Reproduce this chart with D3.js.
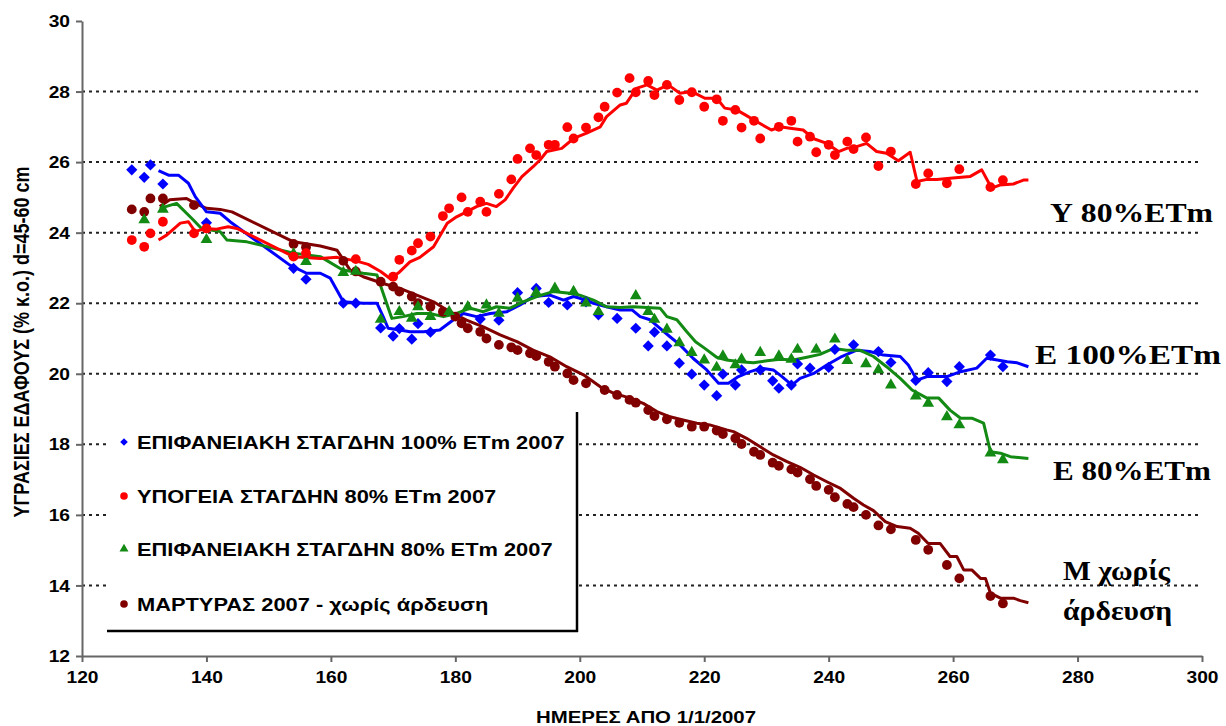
<!DOCTYPE html>
<html><head><meta charset="utf-8">
<script src="https://cdn.jsdelivr.net/npm/d3@7/dist/d3.min.js"></script>
<style>body{margin:0;background:#fff}svg{display:block}</style>
</head><body><svg id="c" width="1226" height="726"></svg>
<script>
// ---------- data ----------
const xTicks = [120,140,160,180,200,220,240,260,280,300];
const yTicks = [12,14,16,18,20,22,24,26,28,30];
const gridValues = [14,16,18,20,22,24,26,28];

const seriesNames = ["ΕΠΙΦΑΝΕΙΑΚΗ ΣΤΑΓΔΗΝ 100% ΕΤm 2007","ΥΠΟΓΕΙΑ ΣΤΑΓΔΗΝ 80% ΕΤm 2007","ΕΠΙΦΑΝΕΙΑΚΗ ΣΤΑΓΔΗΝ 80% ΕΤm 2007","ΜΑΡΤΥΡΑΣ 2007 - χωρίς άρδευση"];
const seriesColors = ["#0000ff","#ff0000","#138a13","#800000"];
const seriesShapes = ["diamond","circle","triangle","circle"];

// measured points
const blueX = [128,130,131,133,140,154,156,162,164,168,170,171,173,174,176,184,187,190,193,195,198,201,203,206,209,211,212,214,216,218,220,222,223,225,226,229,231,232,234,235,237,240,241,244,248,250,254,256,259,261,266,268];
const blueY = [25.78,25.57,25.92,25.38,24.28,22.99,22.68,22.0,22.0,21.3,21.07,21.28,20.98,21.42,21.18,21.55,21.52,22.3,22.42,22.02,21.95,22.04,21.67,21.57,21.29,20.79,21.18,20.79,20.3,19.99,19.68,19.38,19.99,19.68,20.11,20.11,19.8,19.59,19.68,20.28,20.16,20.18,20.69,20.82,20.63,20.32,19.81,20.03,19.78,20.2,20.53,20.2];

const redX = [128,130,131,133,138,140,154,156,164,170,171,173,174,176,178,179,181,182,184,185,187,189,190,192,193,195,196,198,199,201,203,204,206,208,209,211,212,214,216,218,220,222,223,225,226,228,229,232,234,235,237,238,240,241,243,244,246,248,250,254,256,259,261,266,268];
const redY = [23.79,23.6,23.98,24.31,23.98,24.12,23.32,23.42,23.25,22.75,23.23,23.49,23.7,23.89,24.47,24.69,25.0,24.59,24.88,24.59,25.1,25.51,26.09,26.39,26.2,26.49,26.49,26.99,26.67,26.98,27.27,27.57,27.97,28.38,27.98,28.3,27.9,28.19,27.76,27.98,27.57,27.78,27.17,27.48,26.98,27.17,26.67,27.0,27.17,26.58,26.72,26.28,26.49,26.2,26.58,26.37,26.7,25.89,26.3,25.38,25.68,25.4,25.8,25.29,25.49];

const greenX = [130,133,140,154,156,162,164,168,171,173,174,176,179,182,185,187,190,193,196,199,201,203,209,211,212,214,216,218,220,222,223,225,226,229,232,234,235,238,241,243,246,248,250,254,256,259,261,266,268];
const greenY = [24.36,24.66,23.8,23.4,23.18,22.87,22.9,21.54,21.76,21.57,21.9,21.62,21.76,21.9,21.95,21.71,22.14,22.3,22.42,22.33,22.0,21.76,22.21,21.76,21.54,21.26,20.88,20.6,20.39,20.18,20.5,20.25,20.41,20.6,20.5,20.41,20.69,20.69,20.98,20.37,20.28,20.11,19.68,19.37,19.16,18.78,18.55,17.75,17.56];

const brownX = [128,130,131,133,138,154,156,162,164,168,170,171,173,174,176,178,180,181,182,184,185,187,189,190,192,193,195,196,198,199,201,204,206,208,209,211,212,214,216,218,220,222,223,225,226,228,229,231,232,234,235,237,238,240,241,243,244,246,248,250,254,256,259,261,266,268];
const brownY = [24.66,24.59,24.97,24.97,24.78,23.68,23.59,23.2,22.9,22.61,22.47,22.33,22.19,22.0,21.9,21.76,21.62,21.43,21.29,21.19,21.0,20.82,20.75,20.67,20.58,20.5,20.34,20.2,20.01,19.82,19.73,19.54,19.4,19.26,19.18,18.97,18.8,18.71,18.61,18.5,18.5,18.39,18.29,18.17,18.01,17.79,17.7,17.48,17.39,17.29,17.2,17.01,16.82,16.71,16.5,16.31,16.22,16.0,15.7,15.59,15.29,15.01,14.58,14.2,13.7,13.49];

// line series
const blueLineX = [132.3,133.9,135.5,137.1,138.2,140,142.2,143.8,153.4,156.1,158.3,159.9,162,165.2,167.4,168.4,169.2,171.1,172.7,174.9,177.5,179.7,181.3,183.4,185.6,188.3,190.4,192.5,195.2,197.4,199,200,202.2,204.3,206.5,208.4,209.7,211.3,212.9,214.5,216.1,218.2,220.4,222.3,223.9,225.5,227.4,229.2,231.1,232.5,234.1,235.4,237.6,239.7,241.9,244.5,246.6,248.8,251.5,252.8,254.2,255.8,259,261.2,263.8,265.4,267.1,268.7,270.3,272.1];
const blueLineY = [25.76,25.63,25.63,25.4,25.02,24.59,24.55,24.31,23.08,22.85,22.85,22.71,22.04,22.0,22.0,21.62,21.29,21.24,21.19,21.19,21.24,21.53,21.71,21.62,21.71,21.76,21.95,22.19,22.23,22.09,22.19,22.14,22.0,21.9,21.81,21.81,21.62,21.53,21.29,21.05,20.82,20.44,20.11,19.73,19.73,19.92,20.06,20.16,20.11,19.92,19.68,19.87,20.01,20.25,20.47,20.67,20.63,20.53,20.49,20.25,19.82,19.92,19.92,20.06,20.16,20.44,20.39,20.34,20.31,20.2];

const redLineX = [132.3,133.6,135.8,137.1,138.2,139.8,141.6,143.5,144.9,154,158.3,161,164,166,168,169.5,171,172.7,174.3,176.5,178.7,180.2,181.8,183.4,185,186.6,188,189.3,190.7,192.5,193.6,194.7,197.1,199,201.1,203.3,204.3,206.5,207.5,209.1,210.8,212.4,214.2,216.1,218,220.1,222,223.3,225.2,226.6,228.4,230.8,232.2,233.8,235.9,237.5,239.7,241.6,242.9,244.5,246.1,247.7,249.3,251.2,253.1,254.2,255.8,257.4,259.5,262.7,264.6,266.2,267.5,269.7,271.3,272.1];
const redLineY = [23.79,23.93,24.27,24.31,24.03,24.12,24.1,24.17,24.12,23.32,23.27,23.3,23.2,23.1,22.9,22.7,22.88,23.17,23.3,23.6,24.27,24.45,24.59,24.74,24.83,24.74,24.93,25.26,25.59,25.87,26.06,26.3,26.39,26.67,26.82,27.0,27.29,27.62,27.67,28.09,28.19,28.04,28.19,27.95,28.0,27.81,27.81,27.53,27.48,27.34,27.15,26.91,27.0,26.96,26.91,26.67,26.53,26.3,26.39,26.44,26.53,26.3,26.25,26.04,26.28,25.45,25.51,25.51,25.54,25.59,25.78,25.26,25.35,25.38,25.49,25.49];

const greenLineX = [132.5,135.2,137.9,139.2,142.2,143.3,146.5,154,158.3,161.9,165.2,167.4,168.4,169.8,171.6,173.8,175.9,178.1,180.2,182.4,184.5,186.6,188.8,190.9,193.1,195.7,198.4,200,202.2,204.3,206.5,208.6,210.8,212.9,214,215.6,217.2,218.6,220.1,222,223.6,225.8,227.9,230.1,232.2,234.3,236.5,238.6,240.8,242.9,245,247.2,249.3,251.5,253.4,255.8,257.7,259.5,261.2,263,264.9,266,267.6,269.2,272.1];
const greenLineY = [24.69,24.83,24.36,24.12,24.03,23.79,23.74,23.42,23.32,22.94,22.85,22.8,22.28,21.57,21.62,21.71,21.71,21.62,21.71,21.86,21.76,21.9,21.86,22.04,22.19,22.33,22.28,22.23,22.09,21.9,21.88,21.9,21.88,21.86,21.62,21.53,21.19,20.91,20.72,20.47,20.39,20.34,20.31,20.37,20.41,20.39,20.47,20.55,20.72,20.67,20.67,20.49,20.2,19.87,19.54,19.31,19.31,18.97,18.74,18.74,18.6,17.79,17.75,17.65,17.6];

const brownLineX = [132.5,134.1,136.8,138.2,140,142.2,144.1,154,158.3,161,163.1,165.2,168.4,171.1,173.8,176.5,179.1,181.8,184.5,187.2,189.9,192.5,195.2,197.9,200.6,203.3,205.4,208.1,210.2,212.4,214.5,216.6,218.8,220.9,223.6,224.7,226.8,229,231.1,233.3,235.4,237.6,239.7,241.9,244,245.6,247.2,249.1,251,253.1,254.4,256,257.9,259.5,260.6,261.7,263,264.4,265.2,266,267.6,269.7,270.8,272.1];
const brownLineY = [24.74,24.93,24.97,24.83,24.69,24.66,24.59,23.74,23.62,23.5,22.94,22.75,22.56,22.42,22.23,22.04,21.76,21.52,21.33,21.1,20.91,20.67,20.48,20.2,19.97,19.63,19.45,19.31,19.16,18.93,18.78,18.69,18.6,18.55,18.41,18.36,18.17,17.93,17.7,17.51,17.35,17.13,16.94,16.75,16.47,16.28,16.12,15.81,15.67,15.62,15.48,15.19,15.19,14.82,14.82,14.44,14.44,14.2,14.2,13.78,13.64,13.64,13.57,13.51];

const rightLabels = ["Υ 80%ETm","Ε 100%ΕΤm","Ε 80%ΕΤm","Μ χωρίς","άρδευση"];
const xTitle = "ΗΜΕΡΕΣ ΑΠΟ 1/1/2007";
const yTitle = "ΥΓΡΑΣΙΕΣ ΕΔΑΦΟΥΣ (% κ.ο.) d=45-60 cm";

// ---------- drawing ----------
const svg = d3.select("#c");
const x = d3.scaleLinear().domain([120,300]).range([82,1202]);
const y = d3.scaleLinear().domain([12,30]).range([656,21]);
const SANS = "'Liberation Sans', Arial, sans-serif";
const SERIF = "'Liberation Serif', 'Times New Roman', serif";
const SX = 1.2; // horizontal stretch of the original picture

// gridlines
svg.append("g").selectAll("line").data(gridValues).join("line")
  .attr("x1", x(120)).attr("x2", x(300))
  .attr("y1", d => y(d)).attr("y2", d => y(d))
  .attr("stroke", "#222").attr("stroke-width", 2).attr("stroke-dasharray", "3,4");

// axes
const gx = svg.append("g").attr("transform", `translate(0,${y(12)})`)
  .call(d3.axisBottom(x).tickValues(xTicks).tickSize(6).tickSizeOuter(0).tickPadding(10));
const gy = svg.append("g").attr("transform", `translate(${x(120)},0)`)
  .call(d3.axisLeft(y).tickValues(yTicks).tickSize(6).tickSizeOuter(0).tickPadding(9));
[gx, gy].forEach(g => {
  g.select(".domain").attr("stroke", "#666").attr("stroke-width", 2);
  g.selectAll(".tick line").attr("stroke", "#666").attr("stroke-width", 2);
  g.selectAll(".tick text").attr("fill", "#000").attr("font-family", SANS)
    .attr("font-weight", "bold").attr("font-size", 16);
});
gx.selectAll(".tick text").attr("transform", `scale(${SX},1)`);
gy.selectAll(".tick text").attr("dy", "0.35em").attr("x", -12/SX).attr("transform", `scale(${SX},1)`);

// series
const seriesPts = [[blueX,blueY],[redX,redY],[greenX,greenY],[brownX,brownY]];
const seriesLines = [[blueLineX,blueLineY],[redLineX,redLineY],[greenLineX,greenLineY],[brownLineX,brownLineY]];
const line = d3.line().x(d => x(d[0])).y(d => y(d[1]));

function symbolFor(shape, r) {
  if (shape === "diamond") return `M0,${-r}L${r},0L0,${r}L${-r},0Z`;
  if (shape === "triangle") return d3.symbol().type(d3.symbolTriangle).size(r * r * 2.4)();
  return d3.symbol().type(d3.symbolCircle).size(Math.PI * r * r)();
}

const order = [3,0,2,1];
order.forEach(i => {
  const [lx, ly] = seriesLines[i];
  svg.append("path").datum(lx.map((v,k) => [v, ly[k]]))
    .attr("fill", "none").attr("stroke", seriesColors[i]).attr("stroke-width", 3)
    .attr("stroke-linejoin", "round").attr("d", line);
});
order.forEach(i => {
  const [px, py] = seriesPts[i];
  const r = seriesShapes[i] === "circle" ? 4.9 : seriesShapes[i] === "diamond" ? 5.6 : 5.0;
  svg.append("g").selectAll("path").data(px.map((v,k) => [v, py[k]])).join("path")
    .attr("transform", d => `translate(${x(d[0])},${y(d[1])})`)
    .attr("d", symbolFor(seriesShapes[i], r))
    .attr("fill", seriesColors[i]);
});

// legend
const lg = svg.append("g");
lg.append("rect").attr("x", 107).attr("y", 412).attr("width", 470).attr("height", 220).attr("fill", "#fff");
lg.append("line").attr("x1", 577).attr("x2", 577).attr("y1", 412).attr("y2", 632).attr("stroke", "#000").attr("stroke-width", 2.5);
lg.append("line").attr("x1", 107).attr("x2", 578).attr("y1", 631).attr("y2", 631).attr("stroke", "#000").attr("stroke-width", 2.5);
const legendRowY = [442, 496, 549, 604];
seriesNames.forEach((n, i) => {
  lg.append("path").attr("transform", `translate(124,${legendRowY[i]})`)
    .attr("d", symbolFor(seriesShapes[i], 3.8)).attr("fill", seriesColors[i]);
  lg.append("text").attr("transform", `translate(137,${legendRowY[i]}) scale(${SX},1)`)
    .attr("dy", "0.36em").attr("font-family", SANS).attr("font-weight", "bold").attr("font-size", 18.2)
    .attr("fill", "#000").text(n);
});

// right labels (position and drawn width of each label)
const rlPos = [[1050,213,163],[1035,355,186],[1053,471,158],[1063,571,107],[1063,611,109]];
rightLabels.forEach((t, i) => {
  svg.append("text").attr("x", rlPos[i][0]).attr("y", rlPos[i][1])
    .attr("textLength", rlPos[i][2]).attr("lengthAdjust", "spacingAndGlyphs")
    .attr("dy", "0.35em").attr("font-family", SERIF).attr("font-weight", "bold").attr("font-size", 27)
    .attr("fill", "#000").text(t);
});

// axis titles
svg.append("text").attr("transform", `translate(646,717) scale(${SX},1)`)
  .attr("text-anchor", "middle").attr("dy", "0.35em").attr("font-family", SANS).attr("font-weight", "bold")
  .attr("font-size", 17).text(xTitle);
svg.append("text").attr("transform", `translate(21,342) scale(${SX},1) rotate(-90)`)
  .attr("text-anchor", "middle").attr("dy", "0.35em").attr("font-family", SANS).attr("font-weight", "bold")
  .attr("font-size", 18).text(yTitle);
</script></body></html>
